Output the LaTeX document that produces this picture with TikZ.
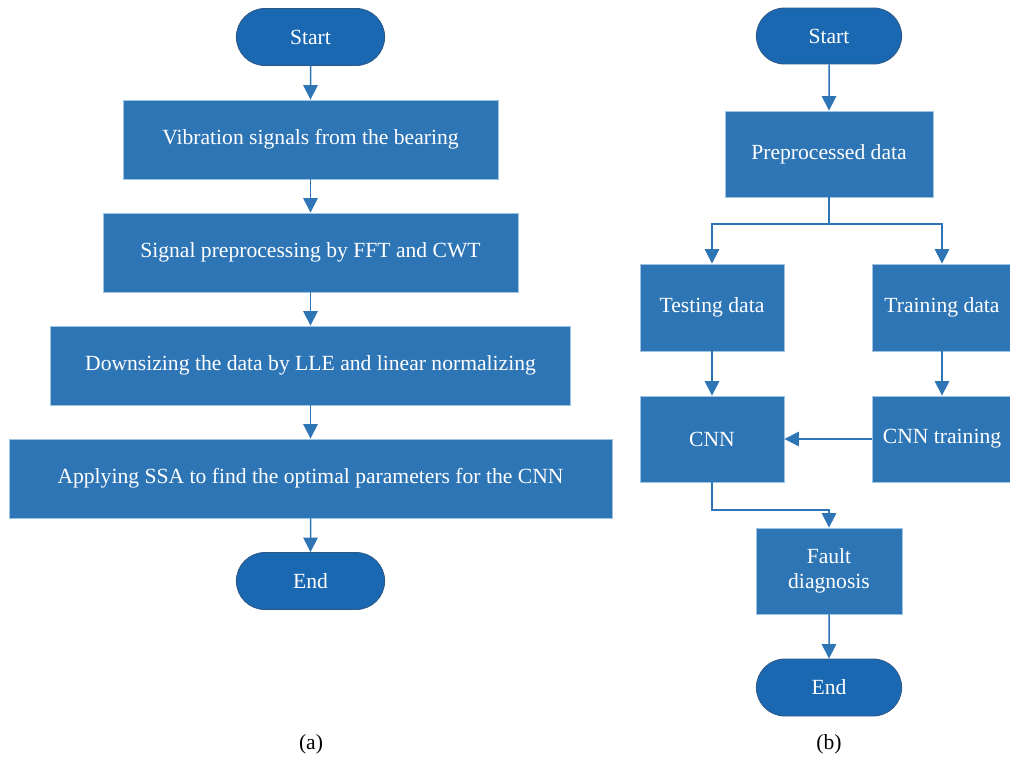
\documentclass[tikz,border=0pt]{standalone}
\usepackage{fontspec}
\setmainfont{Liberation Serif}
\usetikzlibrary{arrows.meta,positioning,shapes.misc}

\definecolor{termblue}{RGB}{27,104,178}
\definecolor{termedge}{RGB}{44,88,138}
\definecolor{boxblue}{RGB}{46,117,182}
\definecolor{boxedge}{RGB}{157,195,230}

\begin{document}
\begin{tikzpicture}[x=0.02cm, y=-0.02cm, >={Triangle[width=8.2pt,length=8.2pt]},
  term/.style={rounded rectangle, fill=termblue, draw=termedge, line width=0.5pt,
    text=white, font=\fontsize{12.3}{14.5}\selectfont, minimum width=3.2cm, minimum height=1.14cm},
  proc/.style={rectangle, fill=boxblue, draw=boxedge, line width=0.5pt,
    text=white, font=\fontsize{12.3}{14.5}\selectfont, align=center, minimum height=1.58cm},
  flow/.style={->, draw=boxblue, line width=0.85pt},
  caption/.style={font=\fontsize{12.3}{14.5}\selectfont}]
\useasboundingbox (0,0) rectangle (1010,758);

% (a)
\node[term] (sa) at (310.5,37) {Start};
\node[proc, minimum width=7.5cm] (vib) at (310.5,139.5) {Vibration signals from the bearing};
\node[proc, minimum width=8.3cm] (pre) at (310.5,252.5) {Signal preprocessing by FFT and CWT};
\node[proc, minimum width=10.4cm] (lle) at (310.5,365.5) {Downsizing the data by LLE and linear normalizing};
\node[proc, minimum width=12.06cm] (ssa) at (310.5,478.5) {Applying SSA to find the optimal parameters for the CNN};
\node[term] (ea) at (310.5,581) {End};
\node[caption] (capa) at (311,744) {(a)};

\draw[flow] (sa) -- (vib);
\draw[flow] (vib) -- (pre);
\draw[flow] (pre) -- (lle);
\draw[flow] (lle) -- (ssa);
\draw[flow] (ssa) -- (ea);

% (b)
\node[term, minimum width=3.14cm, minimum height=1.12cm] (sb) at (829,36) {Start};
\node[proc, minimum width=4.16cm, minimum height=1.72cm] (data) at (829,154) {Preprocessed data};
\node[proc, minimum width=2.88cm, minimum height=1.74cm] (test) at (712,307.5) {Testing data};
\node[proc, minimum width=2.78cm, minimum height=1.74cm] (train) at (942,307.5) {Training data};
\node[proc, minimum width=2.88cm, minimum height=1.72cm] (cnn) at (712,439) {CNN};
\node[proc, minimum width=2.78cm, minimum height=1.72cm] (cnntr) at (942,439) {CNN training};
\node[proc, minimum width=2.92cm, minimum height=1.72cm] (fault) at (829,571) {Fault\\diagnosis};
\node[term, minimum width=3.14cm] (eb) at (829,687.5) {End};
\node[caption] (capb) at (829,744) {(b)};

\coordinate (split) at (829,224);
\coordinate (join) at (712,510);

\draw[flow] (sb) -- (data);
\draw[draw=boxblue, line width=0.85pt] (data) -- (split);
\draw[flow] (split) -| (test);
\draw[flow] (split) -| (train);
\draw[flow] (test) -- (cnn);
\draw[flow] (train) -- (cnntr);
\draw[flow] (cnntr) -- (cnn);
\draw[flow] (cnn) -- (join) -| (fault);
\draw[flow] (fault) -- (eb);
\end{tikzpicture}
\end{document}
